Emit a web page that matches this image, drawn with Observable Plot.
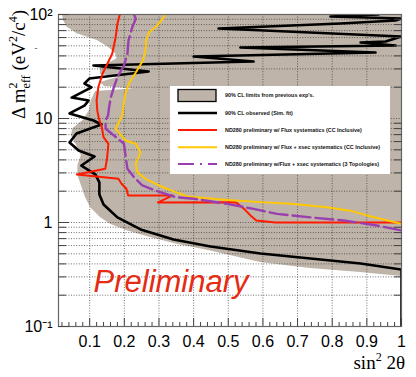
<!DOCTYPE html>
<html>
<head>
<meta charset="utf-8">
<script src="https://cdn.jsdelivr.net/npm/d3@7"></script>
<script src="https://cdn.jsdelivr.net/npm/@observablehq/plot@0.6"></script>
<style>
  html, body { margin: 0; padding: 0; background: #fff; }
  #chart { width: 416px; height: 377px; }
</style>
</head>
<body>
<div id="chart"></div>
<script>
// ---- Data (sin^2 2θ, Δm^2_eff in eV^2/c^4) ----
// 90% CL limits from previous experiments (left boundary of shaded region)
const prevSin2 = [0.0215,0.0244,0.0351,0.064,0.122,0.154,0.175,0.179,0.154,0.131,0.131,0.186,0.160,0.131,0.143,0.226,0.117,0.105,0.099,0.081,0.052,0.047,0.062,0.076,0.066,0.066,0.078,0.088,0.103,0.131,0.160,0.208,0.275,0.352,0.443,0.593,0.737,0.882,1.0];
const prevDm2  = [100,87.5,75.5,65.2,56.2,48.5,41.9,37.5,33.8,30.3,26.5,25.1,23.7,22.2,20.3,19.2,18.2,14.9,11.9,9.57,8.01,6.87,5.50,4.41,3.53,2.83,2.17,1.74,1.39,1.12,0.963,0.832,0.717,0.618,0.538,0.412,0.361,0.331,0.303];

// 90% CL observed (Sim. fit)
const obsSin2 = [0.934,0.795,1.0,0.983,0.824,0.472,1.0,0.954,0.882,0.983,0.535,0.925,0.400,0.573,0.111,0.270,0.099,0.085,0.105,0.048,0.097,0.085,0.042,0.111,0.134,0.062,0.042,0.068,0.114,0.076,0.117,0.128,0.128,0.140,0.180,0.247,0.342,0.449,0.593,0.737,0.882,1.0,1.0];
const obsDm2  = [100,95.7,91.5,87.5,81.9,73.3,61.4,55.0,53.8,50.3,48.2,43.1,39.5,35.3,32.3,28.3,24.2,21.7,19.9,15.9,14.9,13.3,11.2,9.57,8.75,7.17,5.87,4.92,4.31,3.53,2.89,2.42,1.86,1.49,1.12,0.857,0.687,0.588,0.504,0.451,0.404,0.353,0.1];

// ND280 preliminary w/ Flux systematics (CC Inclusive)
const fluxSin2 = [0.187,0.180,0.175,0.165,0.151,0.137,0.125,0.120,0.122,0.127,0.135,0.140,0.154,0.150,0.145,0.063,0.183,0.192,0.206,0.211,0.340,0.297,0.521,0.545,0.564,0.581,0.636,1.0];
const fluxDm2  = [100,81.4,60.5,41.9,33.6,26.9,20.0,14.9,11.9,9.9,8.25,6.61,5.71,4.10,3.28,2.89,2.63,2.36,2.11,1.82,1.82,1.56,1.57,1.36,1.17,1.045,1.0,1.0];

// ND280 preliminary w/ Flux + xsec systematics (CC Inclusive)
const xsecSin2 = [0.319,0.307,0.290,0.271,0.263,0.261,0.254,0.242,0.228,0.215,0.204,0.199,0.194,0.184,0.175,0.204,0.233,0.247,0.233,0.237,0.261,0.300,0.348,0.382,0.497,0.593,0.689,0.785,0.852,0.900,1.0];
const xsecDm2  = [100,87.5,75.5,67.6,56.2,45.1,36.1,31.1,25.9,22.3,17.9,14.3,10.7,9.15,7.96,6.14,5.71,4.74,3.67,3.05,2.63,2.27,1.96,1.78,1.65,1.57,1.51,1.40,1.30,1.17,0.97];

// ND280 preliminary w/ Flux + xsec systematics (3 Topologies)
const topoSin2 = [0.228,0.233,0.223,0.212,0.209,0.199,0.180,0.170,0.161,0.156,0.153,0.146,0.146,0.170,0.199,0.204,0.209,0.228,0.252,0.290,0.348,0.401,0.497,0.573,0.641,0.737,0.833,0.929,1.0];
const topoDm2  = [100,90.9,75.5,56.2,41.9,32.4,24.9,20.0,16.0,12.8,10.7,9.57,7.96,6.87,5.71,4.25,3.28,2.73,2.27,2.03,1.75,1.69,1.51,1.35,1.21,1.12,1.045,0.936,0.838];

// Ticks
const xTickValues = [0.1,0.2,0.3,0.4,0.5,0.6,0.7,0.8,0.9,1];
const xTickLabels = ["0.1","0.2","0.3","0.4","0.5","0.6","0.7","0.8","0.9","1"];
const xMinorTicks = [0.02,0.04,0.06,0.08,0.12,0.14,0.16,0.18,0.22,0.24,0.26,0.28,0.32,0.34,0.36,0.38,0.42,0.44,0.46,0.48,0.52,0.54,0.56,0.58,0.62,0.64,0.66,0.68,0.72,0.74,0.76,0.78,0.82,0.84,0.86,0.88,0.92,0.94,0.96,0.98];
const xGridValues = [0.1,0.2,0.3,0.4,0.5,0.6,0.7,0.8,0.9];
const yTickValues = [0.1,1,10,100];
const yTickLabels = ["10\u207B\u00B9","1","10","10\u00B2"];
const yMinorTicks = [0.2,0.3,0.4,0.5,0.6,0.7,0.8,0.9,2,3,4,5,6,7,8,9,20,30,40,50,60,70,80,90];
const yGridValues = [0.2,0.3,0.4,0.5,0.6,0.7,0.8,0.9,1,2,3,4,5,6,7,8,9,10,20,30,40,50,60,70,80,90];

const legendLabels = [
  "90% CL limits from previous exp's.",
  "90% CL observed (Sim. fit)",
  "ND280 preliminary w/ Flux systematics (CC Inclusive)",
  "ND280 preliminary w/ Flux + xsec systematics (CC Inclusive)",
  "ND280 preliminary w/Flux + xsec systematics (3 Topologies)"
];
const colors = {prev: "#bfb4a9", obs: "#000000", flux: "#ff1a00", xsec: "#ffc800", topo: "#9b3fb0"};

const idx = a => d3.range(a.length);
const xLabelMap = new Map(xTickValues.map((v, i) => [v, xTickLabels[i]]));
const yLabelMap = new Map(yTickValues.map((v, i) => [v, yTickLabels[i]]));
const curve = (sx, sy, opts) => Plot.line(idx(sx), {x: i => sx[i], y: i => sy[i], clip: true, strokeLinejoin: "round", ...opts});

const chart = Plot.plot({
  width: 416,
  height: 377,
  marginLeft: 58,
  marginRight: 15,
  marginTop: 14,
  marginBottom: 51,
  style: {fontFamily: "'Liberation Sans', Arial, sans-serif", background: "#fff", color: "#000"},
  x: {domain: [0.01, 1]},
  y: {type: "log", domain: [0.1, 100]},
  marks: [
    Plot.areaX(idx(prevSin2), {y: i => prevDm2[i], x1: i => prevSin2[i], x2: 1, fill: colors.prev, clip: true}),
    Plot.gridX(xGridValues, {stroke: "#333", strokeOpacity: 0.7, strokeDasharray: "1,1.6", strokeWidth: 1}),
    Plot.gridY(yGridValues, {stroke: "#333", strokeOpacity: 0.7, strokeDasharray: "1,1.6", strokeWidth: 1}),
    curve(obsSin2, obsDm2, {stroke: colors.obs, strokeWidth: 2.6}),
    curve(fluxSin2, fluxDm2, {stroke: colors.flux, strokeWidth: 2}),
    curve(xsecSin2, xsecDm2, {stroke: colors.xsec, strokeWidth: 2}),
    curve(topoSin2, topoDm2, {stroke: colors.topo, strokeWidth: 2.4, strokeDasharray: "18,5"}),
    Plot.text(["Preliminary"], {text: d => d, frameAnchor: "bottom-left", dx: 35, dy: -35, textAnchor: "start",
      fontSize: 31, fontStyle: "italic", fill: "#e52b12"}),
    Plot.frame({stroke: "#666", strokeWidth: 1.2}),
    // tick labels
    Plot.axisX(xTickValues, {tickSize: 0, tickPadding: 9, fontSize: 16, tickFormat: d => xLabelMap.get(d), label: null}),
    Plot.axisY(yTickValues, {tickSize: 0, tickPadding: 6, fontSize: 16, tickFormat: d => yLabelMap.get(d), label: null}),
    // inward ticks
    Plot.axisY(yMinorTicks, {anchor: "left", tickSize: 8, dx: 8, fill: "none", stroke: "#444", label: null}),
    Plot.axisY(yTickValues, {anchor: "left", tickSize: 11, dx: 11, fill: "none", stroke: "#444", label: null}),
    Plot.axisY(yMinorTicks, {anchor: "right", tickSize: 8, dx: -8, fill: "none", stroke: "#444", label: null}),
    Plot.axisX(xMinorTicks, {anchor: "bottom", tickSize: 4, dy: -4, fill: "none", stroke: "#444", label: null}),
    Plot.axisX(xTickValues, {anchor: "bottom", tickSize: 8, dy: -8, fill: "none", stroke: "#444", label: null})
  ]
});

document.getElementById("chart").append(chart);

const svg = d3.select(chart);

// Legend box
const lg = svg.append("g").attr("class", "legend").attr("text-anchor", "start");
lg.append("rect").attr("x", 170).attr("y", 86).attr("width", 220).attr("height", 88).attr("fill", "#fff");
const rowY = [95.5, 113, 130, 147.2, 164];
lg.append("rect").attr("x", 178).attr("y", 89.5).attr("width", 38).attr("height", 12)
  .attr("fill", colors.prev).attr("stroke", "#000").attr("stroke-width", 1.3);
const lineStyles = [
  null,
  {c: colors.obs, w: 2.6},
  {c: colors.flux, w: 2},
  {c: colors.xsec, w: 2},
  {c: colors.topo, w: 2.2, dash: "16,6,2,6"}
];
lineStyles.forEach((s, i) => {
  if (!s) return;
  const l = lg.append("line").attr("x1", 178).attr("x2", 217).attr("y1", rowY[i]).attr("y2", rowY[i])
    .attr("stroke", s.c).attr("stroke-width", s.w);
  if (s.dash) l.attr("stroke-dasharray", s.dash);
});
legendLabels.forEach((t, i) => {
  lg.append("text").attr("x", 225).attr("y", rowY[i]).attr("dy", "0.35em").attr("text-anchor", "start")
    .attr("font-family", "'Liberation Sans', Arial, sans-serif").attr("font-size", 5.4)
    .attr("font-weight", "bold").attr("fill", "#111").text(t);
});

// Y axis title
const yt = svg.append("text")
  .attr("transform", "translate(25,10) rotate(-90)")
  .attr("text-anchor", "end")
  .attr("font-family", "'Liberation Serif', 'Times New Roman', serif")
  .attr("font-size", 19).attr("fill", "#000");
yt.append("tspan").text("\u0394 m");
yt.append("tspan").attr("font-size", 12).attr("dy", -8).text("2");
yt.append("tspan").attr("font-size", 12).attr("dx", -6).attr("dy", 13).text("eff");
yt.append("tspan").attr("dy", -5).text(" (eV");
yt.append("tspan").attr("font-size", 12).attr("dy", -8).text("2");
yt.append("tspan").attr("dy", 8).text("/c");
yt.append("tspan").attr("font-size", 12).attr("dy", -8).text("4");
yt.append("tspan").attr("dy", 8).text(")");

// stray dash near y-axis title
svg.append("text").attr("x", 36).attr("y", 48).attr("dy", "0.35em").attr("text-anchor", "middle")
  .attr("font-size", 9).attr("fill", "#444").attr("font-family", "'Liberation Sans', Arial, sans-serif").text("-");

// X axis title
const xt = svg.append("text").attr("x", 405).attr("y", 368.5).attr("text-anchor", "end")
  .attr("font-family", "'Liberation Serif', 'Times New Roman', serif").attr("font-size", 19).attr("fill", "#000");
xt.append("tspan").text("sin");
xt.append("tspan").attr("font-size", 12).attr("dy", -8).text("2");
xt.append("tspan").attr("dy", 8).text(" 2\u03B8");
</script>
</body>
</html>
